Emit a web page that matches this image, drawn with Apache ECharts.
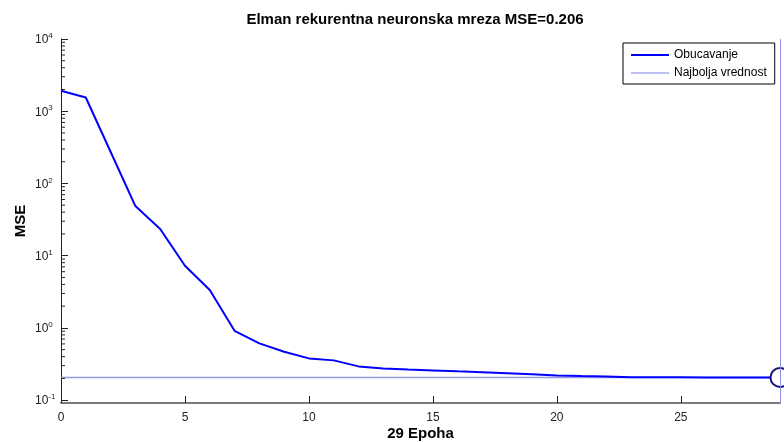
<!DOCTYPE html>
<html>
<head>
<meta charset="utf-8">
<script src="https://cdn.jsdelivr.net/npm/echarts@6/dist/echarts.min.js"></script>
<style>html,body{margin:0;padding:0;background:#fff}#c{width:784px;height:442px}</style>
</head>
<body>
<div id="c"></div>
<script>
const titleText = 'Elman rekurentna neuronska mreza MSE=0.206';
const xName = '29 Epoha';
const yName = 'MSE';
const epochs = [0,1,2,3,4,5,6,7,8,9,10,11,12,13,14,15,16,17,18,19,20,21,22,23,24,25,26,27,28,29];
const trainMSE = [1920,1550,275,48.6,23.4,7.25,3.34,0.912,0.61,0.467,0.378,0.355,0.293,0.275,0.266,0.258,0.25,0.243,0.236,0.228,0.22,0.216,0.213,0.208,0.207,0.207,0.206,0.206,0.206,0.206];
const bestEpoch = 29;
const bestValue = 0.206;
const legendNames = ['Obucavanje', 'Najbolja vrednost'];
const xTicks = [0,5,10,15,20,25];
const yMin = 0.0912, yMax = 10000;
const minorTickValues = [];
[0.1,1,10,100,1000].forEach(function(d){ for (let m = 2; m <= 9; m++) minorTickValues.push(+(m*d).toPrecision(3)); });

const FONT = '"Liberation Sans", Arial, sans-serif';
const chart = echarts.init(document.getElementById('c'), null, {renderer: 'canvas'});

chart.setOption({
  animation: false,
  backgroundColor: '#fff',
  title: {
    text: titleText, left: 415, top: 12, textAlign: 'center', padding: 0,
    textStyle: {fontFamily: FONT, fontSize: 15, fontWeight: 'bold', color: '#000'}
  },
  legend: {
    data: [
      {name: legendNames[0], icon: 'path://M0,0h38v2h-38z'},
      {name: legendNames[1], icon: 'path://M0,0h38v1h-38z'}
    ],
    orient: 'vertical', left: 623, top: 43,
    padding: [6, 8, 5, 8], itemGap: 6, itemWidth: 38, itemHeight: 12,
    borderColor: '#000', borderWidth: 1, backgroundColor: '#fff',
    textStyle: {fontFamily: FONT, fontSize: 12, color: '#000'},
    selectedMode: false
  },
  grid: {left: 61, right: 4, top: 39, bottom: 39, containLabel: false, outerBoundsMode: 'none'},
  xAxis: {
    type: 'value', min: 0, max: epochs[epochs.length-1], interval: 5,
    name: xName, nameLocation: 'middle', nameGap: 23, nameMoveOverlap: false,
    nameTextStyle: {fontFamily: FONT, fontSize: 15, fontWeight: 'bold', color: '#000'},
    axisLine: {show: true, lineStyle: {color: '#7a7a7a', width: 2}},
    axisTick: {show: true, inside: true, length: 7, lineStyle: {color: '#222', width: 1}},
    axisLabel: {fontFamily: FONT, fontSize: 12, color: '#222', margin: 9, showMaxLabel: false,
      formatter: function(v){ return xTicks.indexOf(v) >= 0 ? String(v) : ''; }},
    splitLine: {show: false}
  },
  yAxis: {
    type: 'log', logBase: 10, min: yMin, max: yMax,
    name: yName, nameLocation: 'middle', nameGap: 32.5, nameMoveOverlap: false,
    nameTextStyle: {fontFamily: FONT, fontSize: 15, fontWeight: 'bold', color: '#000'},
    axisLine: {show: true, lineStyle: {color: '#222', width: 1}},
    axisTick: {show: true, inside: true, length: 7, lineStyle: {color: '#222', width: 1}},
    axisLabel: {
      showMinLabel: false, align: 'left', margin: 26, color: '#222',
      formatter: function(v){
        const e = Math.round(Math.log10(v));
        if (Math.abs(Math.log10(v) - e) > 1e-6) return '';
        return '{b|10}{s|' + e + '}';
      },
      rich: {
        b: {fontFamily: FONT, fontSize: 12, color: '#222', padding: [2,0,0,0]},
        s: {fontFamily: FONT, fontSize: 8, color: '#222', verticalAlign: 'top', padding: [0,0,6,0]}
      }
    },
    splitLine: {show: false}
  },
  series: [
    {
      name: legendNames[0], type: 'line', symbol: 'none',
      data: epochs.map(function(e, i){ return [e, trainMSE[i]]; }),
      lineStyle: {color: '#0000ff', width: 2}, itemStyle: {color: '#0000ff'}, z: 3
    },
    {
      name: legendNames[1], type: 'line', symbol: 'none',
      data: [[epochs[0], bestValue], [epochs[epochs.length-1], bestValue]],
      lineStyle: {color: '#9898e6', width: 1.5}, itemStyle: {color: '#7f84e8'}, z: 2,
      markLine: {
        silent: true, symbol: ['none','none'], label: {show: false},
        lineStyle: {color: '#9090e6', width: 1, type: 'solid'},
        data: [{xAxis: bestEpoch}]
      }
    },
    {
      name: 'best', type: 'scatter', symbol: 'emptyCircle', symbolSize: 19,
      data: [[bestEpoch, bestValue]], clip: false,
      itemStyle: {color: '#141478', borderColor: '#141478', borderWidth: 1.5, opacity: 1},
      z: 4, silent: true
    },
    {
      name: 'minorTicks', type: 'custom', silent: true, clip: false, z: 5,
      data: minorTickValues.map(function(v){ return [0, v]; }),
      renderItem: function(params, api){
        const p = api.coord([0, api.value(1)]);
        return {type: 'line', shape: {x1: p[0], y1: p[1], x2: p[0] + 4, y2: p[1]},
          style: {stroke: '#222', lineWidth: 1}};
      }
    }
  ]
});
</script>
</body>
</html>
